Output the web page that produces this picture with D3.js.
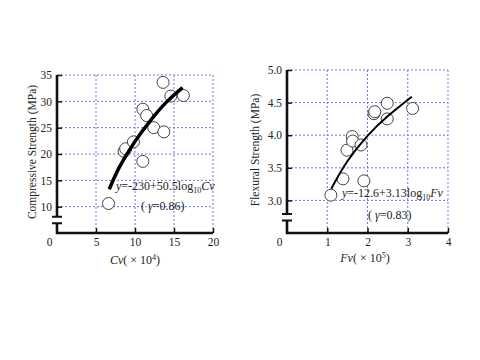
<!DOCTYPE html>
<html><head><meta charset="utf-8">
<script src="https://cdn.jsdelivr.net/npm/d3@7"></script>
<style>
body{margin:0;background:#fff}
svg{display:block}
text{font-family:"Liberation Serif","Times New Roman",serif;fill:#222}
</style>
</head><body>
<svg id="c" width="480" height="360"></svg>
<script>
// ---- Left panel: compressive strength vs Cv ----
const cvValues      = [6.6, 8.6, 8.8, 9.8, 11.0, 11.0, 11.5, 12.4, 13.7, 13.6, 14.6, 16.2];
const compStrength  = [10.6, 20.5, 21.0, 22.3, 18.6, 28.5, 27.3, 25.0, 24.2, 33.6, 31.0, 31.1];
const cvFitX        = [6.7, 8, 10, 12, 14, 16.1];
const cvFitY        = [13.3, 17.5, 22.4, 26.4, 29.8, 32.6];
const cvTicks       = [0, 5, 10, 15, 20];
const compTicks     = [10, 15, 20, 25, 30, 35];

// ---- Right panel: flexural strength vs Fv ----
const fvValues      = [1.09, 1.39, 1.49, 1.62, 1.63, 1.84, 1.91, 2.16, 2.18, 2.49, 2.49, 3.12];
const flexStrength  = [3.08, 3.33, 3.77, 3.98, 3.91, 3.85, 3.30, 4.33, 4.36, 4.49, 4.25, 4.41];
const fvFitX        = [1.1, 1.5, 2, 2.5, 3.1];
const fvFitY        = [3.18, 3.60, 3.99, 4.29, 4.59];
const fvTicks       = [0, 1, 2, 3, 4];
const flexTicks     = [3.0, 3.5, 4.0, 4.5, 5.0];

const svg = d3.select("#c");
const gridColor = "#7272e6";

function panel(cfg) {
  const g = svg.append("g");
  const x = d3.scaleLinear(cfg.xDomain, cfg.xRange);
  const y = d3.scaleLinear(cfg.yDomain, cfg.yRange);
  const x0 = x(cfg.xDomain[0]), x1 = x(cfg.xDomain[1]);
  const yb = y(cfg.yDomain[0]), yt = y(cfg.yDomain[1]);

  // grid
  g.append("g").selectAll("line").data(cfg.yTicks).join("line")
    .attr("x1", x0).attr("x2", x1).attr("y1", d => y(d)).attr("y2", d => y(d))
    .attr("stroke", gridColor).attr("stroke-width", 1).attr("stroke-dasharray", "2,2");
  g.append("g").selectAll("line").data(cfg.xTicks.filter(d => d !== cfg.xDomain[0])).join("line")
    .attr("x1", d => x(d)).attr("x2", d => x(d)).attr("y1", yt).attr("y2", yb)
    .attr("stroke", gridColor).attr("stroke-width", 1).attr("stroke-dasharray", "2,2");

  // y axis ticks + labels
  const ya = d3.axisLeft(y).tickValues(cfg.yTicks).tickSize(-5).tickPadding(5).tickFormat(cfg.yFmt);
  const yg = g.append("g").attr("transform", `translate(${x0},0)`).call(ya);
  yg.select(".domain").remove();
  yg.selectAll("line").attr("stroke", "#111").attr("stroke-width", 1.5);
  yg.selectAll("text").attr("font-family", "Liberation Serif, serif").attr("font-size", 11.5).attr("fill", "#222");

  // x axis ticks + labels
  const xa = d3.axisBottom(x).tickValues(cfg.xTicks).tickSize(-5).tickPadding(5).tickFormat(d3.format("d"));
  const xg = g.append("g").attr("transform", `translate(0,${yb})`).call(xa);
  xg.select(".domain").remove();
  xg.selectAll("line").attr("stroke", "#111").attr("stroke-width", 1.5);
  xg.selectAll(".tick").filter(d => d === cfg.xDomain[0]).select("line").remove();
  xg.selectAll(".tick").filter(d => d === cfg.xDomain[0]).select("text").attr("dx", -8);
  xg.selectAll("text").attr("font-family", "Liberation Serif, serif").attr("font-size", 11.5).attr("fill", "#222");

  // axis lines with break
  const bTop = y(cfg.breakAt[0]), bBot = y(cfg.breakAt[1]);
  g.append("path")
    .attr("d", `M${x0},${yt}V${bTop}M${x0},${bBot}V${yb}H${x1}`)
    .attr("fill", "none").attr("stroke", "#111").attr("stroke-width", 2.6);
  g.append("path")
    .attr("d", `M${x0-5},${bTop}H${x0+5}M${x0-5},${bBot}H${x0+5}`)
    .attr("fill", "none").attr("stroke", "#111").attr("stroke-width", 2);

  // points
  g.append("g").selectAll("circle").data(cfg.px.map((v, i) => [v, cfg.py[i]])).join("circle")
    .attr("cx", d => x(d[0])).attr("cy", d => y(d[1])).attr("r", 6)
    .attr("fill", "#fff").attr("stroke", "#444").attr("stroke-width", 1);

  // fit curve
  const line = d3.line().x(d => x(d[0])).y(d => y(d[1])).curve(d3.curveNatural);
  g.append("path").datum(cfg.fx.map((v, i) => [v, cfg.fy[i]]))
    .attr("d", line).attr("fill", "none").attr("stroke", "#000")
    .attr("stroke-width", cfg.fitWidth).attr("stroke-linecap", "butt");

  return {x, y, g};
}

const L = panel({
  xDomain: [0, 20], xRange: [57, 213], yDomain: [5, 35], yRange: [233, 75],
  xTicks: cvTicks, yTicks: compTicks, yFmt: d3.format("d"), breakAt: [8.1, 6.85],
  px: cvValues, py: compStrength, fx: cvFitX, fy: cvFitY, fitWidth: 3.5
});
const R = panel({
  xDomain: [0, 4], xRange: [287, 448], yDomain: [2.5, 5.0], yRange: [233, 70],
  xTicks: fvTicks, yTicks: flexTicks, yFmt: d3.format(".1f"), breakAt: [2.79, 2.69],
  px: fvValues, py: flexStrength, fx: fvFitX, fy: fvFitY, fitWidth: 2
});

// axis titles
svg.append("text").attr("text-anchor", "middle")
  .attr("transform", "translate(36,152) rotate(-90)").attr("font-size", 11.5)
  .text("Compressive Strength (MPa)");
svg.append("text").attr("text-anchor", "middle")
  .attr("transform", "translate(259,150) rotate(-90)").attr("font-size", 11.5)
  .text("Flexural Strength (MPa)");

function xTitle(cx, cy, name, exp) {
  const t = svg.append("text").attr("x", cx).attr("y", cy).attr("text-anchor", "middle").attr("font-size", 12);
  t.append("tspan").attr("font-style", "italic").text(name);
  t.append("tspan").text("( × 10");
  t.append("tspan").attr("font-size", 8).attr("dy", -4).text(exp);
  t.append("tspan").attr("dy", 4).text(")");
}
xTitle(135, 264, "Cv", "4");
xTitle(365, 262, "Fv", "5");

function eq(xp, yp, a, v) {
  const t = svg.append("text").attr("x", xp).attr("y", yp).attr("font-size", 12);
  t.append("tspan").attr("font-style", "italic").text("y");
  t.append("tspan").text(a + "log");
  t.append("tspan").attr("font-size", 8).attr("dy", 3).text("10");
  t.append("tspan").attr("font-style", "italic").attr("dy", -3).text(v);
}
function rr(xp, yp, r) {
  const t = svg.append("text").attr("x", xp).attr("y", yp).attr("font-size", 12);
  t.append("tspan").text("( ");
  t.append("tspan").attr("font-style", "italic").text("γ");
  t.append("tspan").text("=" + r + ")");
}
eq(116, 190, "=-230+50.5", "Cv");
rr(141, 210, "0.86");
eq(342, 197, "=-12.6+3.13", "Fv");
rr(368, 219, "0.83");
</script>
</body></html>
